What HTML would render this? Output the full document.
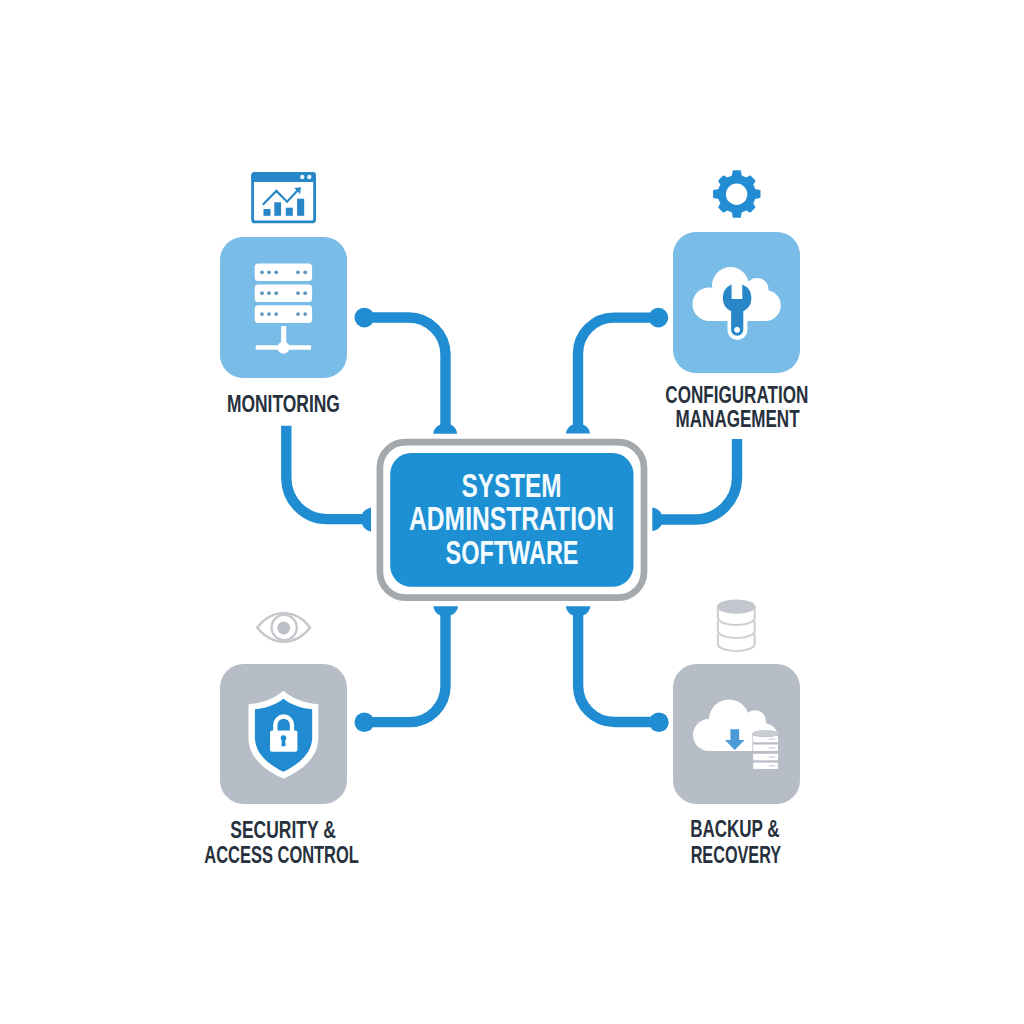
<!DOCTYPE html>
<html lang="en">
<head>
<meta charset="utf-8">
<title>System Administration Software</title>
<style>
  html, body { margin: 0; padding: 0; background: #ffffff; }
  body { width: 1024px; height: 1024px; overflow: hidden; }
  svg { display: block; }
  .lbl { font-family: "Liberation Sans", sans-serif; font-weight: bold; fill: #26313d; }
  .ctr { font-family: "Liberation Sans", sans-serif; font-weight: bold; fill: #f4fbff; }
  .conn { fill: none; stroke: #208cd1; stroke-width: 10.4; stroke-linecap: butt; stroke-linejoin: round; }
  .cfill { fill: #208cd1; }
</style>
</head>
<body>
<svg width="1024" height="1024" viewBox="0 0 1024 1024">
  <rect width="1024" height="1024" fill="#ffffff"/>

  <!-- ================= CONNECTORS ================= -->
  <g id="connectors">
    <!-- top-left -->
    <path class="conn" d="M364.4 317.5 H408.5 A37 37 0 0 1 445.5 354.5 V430"/>
    <circle class="cfill" cx="364.4" cy="317.6" r="9.9"/>
    <path class="cfill" d="M433.3 433.7 C433.6 428.5 438 424.8 442 424.6 H449 C453 424.8 456.7 428.5 457 433.7 Z"/>
    <!-- top-right -->
    <path class="conn" d="M658.4 317.6 H614 A36 36 0 0 0 578 353.6 V430"/>
    <circle class="cfill" cx="658.4" cy="317.6" r="9.8"/>
    <path class="cfill" d="M566 433.5 C566.3 428.5 570.5 424.8 574.5 424.6 H581.5 C585.5 424.8 589.6 428.5 589.9 433.5 Z"/>
    <!-- left -->
    <path class="conn" d="M286.3 425.8 V478 A41 41 0 0 0 327.3 519.1 H366"/>
    <path class="cfill" d="M371 507.7 C366.5 508.5 363.2 511 362 514.5 V523.7 C363.2 527.5 366.5 530.8 371 531.6 Z"/>
    <!-- right -->
    <path class="conn" d="M737 439.1 V477.5 A42 42 0 0 1 695 519.5 H658"/>
    <path class="cfill" d="M652.3 507.6 C657 508.3 660.3 510.8 661.7 514.5 V524.5 C660.3 527.8 657 530.3 652.3 531 Z"/>
    <!-- bottom-left -->
    <path class="conn" d="M364.3 722.1 H409.5 A36 36 0 0 0 445.5 686.1 V610"/>
    <circle class="cfill" cx="364.3" cy="722.3" r="9.8"/>
    <path class="cfill" d="M433.4 606.2 H458 C457.5 611 454 614.3 450.7 615.2 H440.3 C437 614.3 433.9 611 433.4 606.2 Z"/>
    <!-- bottom-right -->
    <path class="conn" d="M658.9 722 H614.6 A36.5 36.5 0 0 1 578.1 685.5 V610"/>
    <circle class="cfill" cx="658.9" cy="722.2" r="9.8"/>
    <path class="cfill" d="M565.9 606.2 H590.3 C589.8 611 586.5 614.3 583.4 615.2 H572.8 C569.5 614.3 566.4 611 565.9 606.2 Z"/>
  </g>

  <!-- ================= CENTER BOX ================= -->
  <g id="center">
    <rect x="379.9" y="442.1" width="264.1" height="155.5" rx="25.5" ry="25.5" fill="#ffffff" stroke="#a5a8ac" stroke-width="6.7"/>
    <rect x="390.2" y="453" width="243.3" height="133.8" rx="21" ry="21" fill="#1d8fd3"/>
    <text class="ctr" x="511.6" y="497" font-size="33" text-anchor="middle" textLength="100" lengthAdjust="spacingAndGlyphs">SYSTEM</text>
    <text class="ctr" x="511.5" y="529.9" font-size="33" text-anchor="middle" textLength="205" lengthAdjust="spacingAndGlyphs">ADMINSTRATION</text>
    <text class="ctr" x="512" y="564" font-size="33" text-anchor="middle" textLength="133" lengthAdjust="spacingAndGlyphs">SOFTWARE</text>
  </g>

  <!-- ================= MONITORING ================= -->
  <g id="monitoring">
    <rect x="220" y="237" width="127" height="141" rx="23" ry="23" fill="#79bce7"/>
    <!-- chart icon -->
    <g id="chart-icon">
      <rect x="252.6" y="173.4" width="62" height="48.5" rx="2.5" fill="#ffffff" stroke="#2787c9" stroke-width="2.8"/>
      <path d="M251.2 182 V175.5 Q251.2 172 254.7 172 H312.5 Q316 172 316 175.5 V182 Z" fill="#2787c9"/>
      <circle cx="302.3" cy="177" r="2.2" fill="#e8f6ff"/>
      <circle cx="309.3" cy="177" r="2.2" fill="#e8f6ff"/>
      <rect x="263.5" y="209" width="7" height="6.8" fill="#2787c9"/>
      <rect x="274.3" y="202.3" width="6.8" height="13.5" fill="#2787c9"/>
      <rect x="285.8" y="207.7" width="7" height="8.1" fill="#2787c9"/>
      <rect x="297.1" y="198.7" width="7.1" height="17.1" fill="#2787c9"/>
      <path d="M262.8 204.8 L276.4 190.9 L287.1 201.7 L298 190" fill="none" stroke="#2787c9" stroke-width="2.2" stroke-linejoin="miter"/>
      <path d="M294.2 188 L301 187.3 L300 193.9 Z" fill="#2787c9"/>
    </g>
    <!-- server rack -->
    <g id="server-icon" fill="#ffffff">
      <rect x="254.7" y="263.5" width="57.4" height="17.6" rx="3.5"/>
      <rect x="254.7" y="284.4" width="57.4" height="17.6" rx="3.5"/>
      <rect x="254.7" y="305.3" width="57.4" height="17.6" rx="3.5"/>
      <rect x="281.2" y="326" width="5" height="20"/>
      <rect x="255.7" y="345.2" width="55.4" height="4.6" rx="1"/>
      <circle cx="283.5" cy="347.7" r="6.1"/>
      <g fill="#6098c0">
        <circle cx="262" cy="272.3" r="1.9"/><circle cx="269" cy="272.3" r="1.9"/><circle cx="276.2" cy="272.3" r="1.9"/>
        <circle cx="298" cy="272.3" r="1.9"/><circle cx="305.2" cy="272.3" r="1.9"/>
        <circle cx="262" cy="293.2" r="1.9"/><circle cx="269" cy="293.2" r="1.9"/><circle cx="276.2" cy="293.2" r="1.9"/>
        <circle cx="298" cy="293.2" r="1.9"/><circle cx="305.2" cy="293.2" r="1.9"/>
        <circle cx="262" cy="314.1" r="1.9"/><circle cx="269" cy="314.1" r="1.9"/><circle cx="276.2" cy="314.1" r="1.9"/>
        <circle cx="298" cy="314.1" r="1.9"/><circle cx="305.2" cy="314.1" r="1.9"/>
      </g>
    </g>
    <text class="lbl" x="283.4" y="412.4" font-size="24" text-anchor="middle" textLength="113" lengthAdjust="spacingAndGlyphs">MONITORING</text>
  </g>

  <!-- ================= CONFIGURATION ================= -->
  <g id="config">
    <rect x="673" y="232" width="127" height="141" rx="23" ry="23" fill="#79bce7"/>
    <!-- gear -->
    <path id="gear-icon" fill="#228dd3" stroke="#228dd3" stroke-width="1.4" stroke-linejoin="round" d="M732.40 176.24 L733.50 171.00 L740.10 171.00 L741.20 176.24 A18.3 18.3 0 0 1 746.25 178.33 L750.02 176.11 L754.69 180.78 L752.47 184.55 A18.3 18.3 0 0 1 754.56 189.60 L759.80 190.70 L759.80 197.30 L754.56 198.40 A18.3 18.3 0 0 1 752.47 203.45 L754.69 207.22 L750.02 211.89 L746.25 209.67 A18.3 18.3 0 0 1 741.20 211.76 L740.10 217.00 L733.50 217.00 L732.40 211.76 A18.3 18.3 0 0 1 727.35 209.67 L723.58 211.89 L718.91 207.22 L721.13 203.45 A18.3 18.3 0 0 1 719.04 198.40 L713.80 197.30 L713.80 190.70 L719.04 189.60 A18.3 18.3 0 0 1 721.13 184.55 L718.91 180.78 L723.58 176.11 L727.35 178.33 A18.3 18.3 0 0 1 732.40 176.24 Z"/>
    <circle cx="736.6" cy="194.2" r="10.7" fill="#ffffff"/>
    <!-- cloud + wrench -->
    <g id="cloud-wrench">
      <g fill="#ffffff">
        <circle cx="730.5" cy="285.5" r="18.5"/>
        <circle cx="757" cy="289.5" r="11.5"/>
        <circle cx="709.3" cy="304.2" r="16.8"/>
        <circle cx="765.3" cy="305.5" r="15.5"/>
        <rect x="709" y="290" width="57" height="31"/>
        <!-- white outline of wrench handle below cloud -->
        <path d="M727.5 312 H747.4 V330 A9.95 9.95 0 0 1 727.5 330 Z"/>
      </g>
      <g fill="#2887c8">
        <path fill-rule="evenodd" d="M731.6 284.6 V299 H742.3 V284.6 A14.6 14.6 0 0 1 743.3 311.2 V329.7 A6.1 6.1 0 0 1 731.1 329.7 V311.2 A14.6 14.6 0 0 1 731.6 284.6 Z M737.1 326.7 a3 3 0 1 0 0.01 0 Z"/>
      </g>
    </g>
    <text class="lbl" x="736.8" y="402.6" font-size="23.6" text-anchor="middle" textLength="143" lengthAdjust="spacingAndGlyphs">CONFIGURATION</text>
    <text class="lbl" x="737.6" y="426.8" font-size="23.4" text-anchor="middle" textLength="124" lengthAdjust="spacingAndGlyphs">MANAGEMENT</text>
  </g>

  <!-- ================= SECURITY ================= -->
  <g id="security">
    <rect x="220" y="664" width="127" height="140" rx="23.5" ry="23.5" fill="#b6bdc6"/>
    <!-- eye -->
    <g id="eye-icon" fill="none" stroke="#c4c7cc" stroke-width="2.3">
      <path d="M257.2 627.5 C266 616.5 275 613.2 283.7 613.2 C292.5 613.2 301.5 616.5 310.2 627.5 C301.5 638.5 292.5 641.8 283.7 641.8 C275 641.8 266 638.5 257.2 627.5 Z" stroke-linejoin="round"/>
      <circle cx="284.2" cy="627.5" r="12.6"/>
      <circle cx="283.7" cy="628" r="6.4" fill="#bcbfc5" stroke="none"/>
    </g>
    <!-- shield -->
    <g id="shield-icon">
      <path fill="#ffffff" d="M283.4 690.7 C274 699 261 703.5 248.5 704.2 V738 C248.5 757.5 264.5 770 283.4 778.8 C302.3 770 318.3 757.5 318.3 738 V704.2 C305.8 703.5 292.8 699 283.4 690.7 Z"/>
      <path fill="#218bd2" d="M283.4 698.8 C275.5 705 265 708.5 254.9 709.3 V737.5 C254.9 753.5 268.5 764.5 283.4 771.8 C298.3 764.5 312.2 753.5 312.2 737.5 V709.3 C301.8 708.5 291.3 705 283.4 698.8 Z"/>
      <rect x="270" y="730.5" width="27.4" height="21.3" rx="2" fill="#ffffff"/>
      <path d="M275.35 731.5 V724.8 A8.3 8.3 0 0 1 291.95 724.8 V731.5" fill="none" stroke="#ffffff" stroke-width="4.3"/>
      <circle cx="283.5" cy="738" r="2.8" fill="#218bd2"/>
      <path d="M281.9 738 H285.1 L285.6 746.2 H281.4 Z" fill="#218bd2"/>
    </g>
    <text class="lbl" x="283" y="837.8" font-size="24" text-anchor="middle" textLength="105.5" lengthAdjust="spacingAndGlyphs">SECURITY &amp;</text>
    <text class="lbl" x="281.6" y="862.6" font-size="24" text-anchor="middle" textLength="154.5" lengthAdjust="spacingAndGlyphs">ACCESS CONTROL</text>
  </g>

  <!-- ================= BACKUP ================= -->
  <g id="backup">
    <rect x="673" y="664" width="127" height="140" rx="23.5" ry="23.5" fill="#b6bdc6"/>
    <!-- database -->
    <g id="db-icon" fill="none" stroke="#cfd1d5" stroke-width="2.2">
      <path d="M717.9 607 V618 A18.4 7 0 0 0 754.7 618 V607"/>
      <path d="M717.9 621 V631 A18.4 7 0 0 0 754.7 631 V621"/>
      <path d="M717.9 634 V644 A18.4 7 0 0 0 754.7 644 V634"/>
      <ellipse cx="736.3" cy="606.6" rx="19.2" ry="7.2" fill="#c3c7cd" stroke="none"/>
    </g>
    <!-- cloud + download + server -->
    <g id="backup-cloud">
      <g fill="#ffffff">
        <circle cx="729" cy="719.5" r="20"/>
        <circle cx="755" cy="721" r="10.8"/>
        <circle cx="709" cy="735" r="16"/>
        <circle cx="764" cy="737" r="13.8"/>
        <rect x="709" y="722" width="56" height="29"/>
      </g>
      <path fill="#4a9ad6" d="M730.4 729.3 H739.2 V740 H744.6 L734.8 750 L725 740 H730.4 Z"/>
      <!-- server stack -->
      <rect x="752.4" y="733" width="26.2" height="36.5" fill="#b9bec6"/>
      <ellipse cx="765.5" cy="733.4" rx="13.1" ry="3.4" fill="#c9cdd2"/>
      <g fill="#ffffff">
        <path d="M753.2 735.7 Q765.5 738.6 777.9 735.7 V742.2 H753.2 Z"/>
        <rect x="753.2" y="744.5" width="24.7" height="6.5"/>
        <rect x="753.2" y="753.8" width="24.7" height="6.5"/>
        <rect x="753.2" y="762.6" width="24.7" height="6.3"/>
      </g>
      <g fill="#cfd3d8">
        <rect x="768.5" y="738.5" width="6.5" height="1.3"/>
        <rect x="768.5" y="747.2" width="6.5" height="1.3"/>
        <rect x="768.5" y="756.5" width="6.5" height="1.3"/>
        <rect x="768.5" y="765.2" width="6.5" height="1.3"/>
      </g>
    </g>
    <text class="lbl" x="734.9" y="837" font-size="23.2" text-anchor="middle" textLength="89.5" lengthAdjust="spacingAndGlyphs">BACKUP &amp;</text>
    <text class="lbl" x="735.9" y="862.5" font-size="23.5" text-anchor="middle" textLength="90.5" lengthAdjust="spacingAndGlyphs">RECOVERY</text>
  </g>
</svg>
</body>
</html>
